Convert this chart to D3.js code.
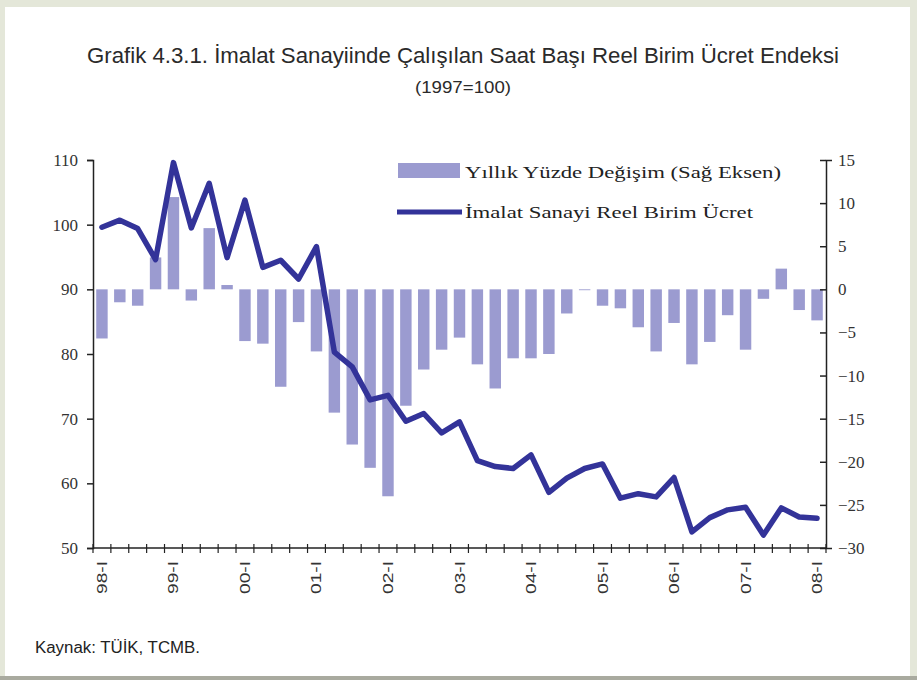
<!DOCTYPE html>
<html><head><meta charset="utf-8">
<script src="https://cdn.jsdelivr.net/npm/d3@7"></script>
<style>html,body{margin:0;padding:0;background:#fff;}svg{display:block;}</style>
</head><body>
<svg id="chart" width="917" height="680"></svg>
<script>
const title = "Grafik 4.3.1. İmalat Sanayiinde Çalışılan Saat Başı Reel Birim Ücret Endeksi";
const subtitle = "(1997=100)";
const source = "Kaynak: TÜİK, TCMB.";
const barLabel = "Yıllık Yüzde Değişim (Sağ Eksen)";
const lineLabel = "İmalat Sanayi Reel Birim Ücret";

const years = ["98","99","00","01","02","03","04","05","06","07","08"];
const quarterNames = ["I","II","III","IV"];
const categories = [];
years.forEach((y, i) => quarterNames.forEach((q, j) => { if (i < years.length - 1 || j === 0) categories.push(y + "-" + q); }));
const tickLabels = years.map(y => y + "-I");

const indexValues = [99.6,100.7,99.4,94.6,109.6,99.5,106.4,94.9,103.8,93.4,94.5,91.6,96.6,80.3,78.0,72.9,73.6,69.6,70.8,67.8,69.5,63.5,62.6,62.3,64.4,58.6,60.8,62.3,63.0,57.7,58.4,57.9,60.9,52.5,54.7,55.9,56.3,52.0,56.2,54.8,54.6];
const changeValues = [-5.7,-1.5,-1.9,3.7,10.7,-1.3,7.1,0.5,-6.0,-6.3,-11.3,-3.8,-7.2,-14.3,-18.0,-20.7,-24.0,-13.5,-9.3,-7.0,-5.6,-8.7,-11.5,-8.0,-8.0,-7.5,-2.8,-0.1,-1.9,-2.2,-4.4,-7.2,-3.9,-8.7,-6.1,-3.0,-7.0,-1.1,2.4,-2.4,-3.6];
const leftTicks = [50,60,70,80,90,100,110];
const rightTicks = [-30,-25,-20,-15,-10,-5,0,5,10,15];

const svg = d3.select("#chart");
// frame
svg.append("rect").attr("x",0).attr("y",0).attr("width",917).attr("height",680).attr("fill","#e4e7d9");
svg.append("rect").attr("x",5).attr("y",7).attr("width",905).attr("height",669).attr("fill","#fff");
svg.append("rect").attr("x",0).attr("y",676).attr("width",917).attr("height",4).attr("fill","#a9aa9f");

const L = 93, R = 826, T = 160, B = 548;
const x = d3.scaleBand().domain(categories).range([L, R]).paddingInner(0.36).paddingOuter(0.18);
const xPoint = c => x(c) + x.bandwidth() / 2;
const yL = d3.scaleLinear().domain([50, 110]).range([B, T]);
const yR = d3.scaleLinear().domain([-30, 15]).range([B, T]);

const barColor = "#9b9bd0", lineColor = "#333399";

// bars
svg.append("g").selectAll("rect").data(changeValues).join("rect")
  .attr("x", (d, i) => x(categories[i]))
  .attr("width", x.bandwidth())
  .attr("y", d => yR(Math.max(0, d)))
  .attr("height", d => Math.max(0.8, Math.abs(yR(d) - yR(0))))
  .attr("fill", barColor);

// line
const line = d3.line().x((d, i) => xPoint(categories[i])).y(d => yL(d));
svg.append("path").datum(indexValues).attr("d", line)
  .attr("fill", "none").attr("stroke", lineColor).attr("stroke-width", 5.5)
  .attr("stroke-linejoin", "round").attr("stroke-linecap", "round");

// axes
const axisFont = "'Liberation Serif', 'Times New Roman', serif";
const gl = svg.append("g").attr("transform", `translate(${L},0)`)
  .call(d3.axisLeft(yL).tickValues(leftTicks).tickSize(6).tickPadding(9));
const gr = svg.append("g").attr("transform", `translate(${R},0)`)
  .call(d3.axisRight(yR).tickValues(rightTicks).tickSize(6).tickPadding(8));
[gl, gr].forEach(g => {
  g.select(".domain").attr("stroke", "#222").attr("stroke-width", 1.5);
  g.selectAll(".tick line").attr("stroke", "#222").attr("stroke-width", 1.5);
  g.selectAll(".tick text").attr("font-family", axisFont).attr("font-size", 17).attr("fill", "#333");
});
gr.selectAll(".tick line").attr("x1", -6).attr("x2", 0);
gr.selectAll(".tick text").attr("x", 12);

// x axis with ticks at band boundaries
const gx = svg.append("g").attr("transform", `translate(0,${B})`);
gx.append("line").attr("x1", L).attr("x2", R).attr("stroke", "#222").attr("stroke-width", 1.5);
const boundaries = d3.range(categories.length + 1).map(i => L + (R - L) * i / categories.length);
gx.selectAll("line.t").data(boundaries).join("line").attr("class", "t")
  .attr("x1", d => d).attr("x2", d => d).attr("y1", -4).attr("y2", 5)
  .attr("stroke", "#222").attr("stroke-width", 1.2);
gx.selectAll("text").data(tickLabels).join("text")
  .attr("transform", d => `translate(${xPoint(d) + 5},${13}) rotate(-90)`)
  .attr("text-anchor", "end")
  .attr("font-family", "'Liberation Sans', Arial, sans-serif")
  .attr("font-size", 14).attr("fill", "#333")
  .attr("textLength", 33).attr("lengthAdjust", "spacingAndGlyphs")
  .text(d => d);

// titles
const narrow = "'Liberation Sans Narrow', 'Arial Narrow', 'Liberation Sans', sans-serif";
svg.append("text").attr("x", 463).attr("y", 63).attr("text-anchor", "middle")
  .attr("font-family", narrow)
  .attr("font-size", 22).attr("fill", "#2a2a2a")
  .attr("textLength", 752).attr("lengthAdjust", "spacingAndGlyphs").text(title);
svg.append("text").attr("x", 463).attr("y", 93).attr("text-anchor", "middle")
  .attr("font-family", narrow)
  .attr("font-size", 17).attr("fill", "#2a2a2a")
  .attr("textLength", 96).attr("lengthAdjust", "spacingAndGlyphs").text(subtitle);

// legend
const lg = svg.append("g");
lg.append("rect").attr("x", 398).attr("y", 163).attr("width", 62).attr("height", 15).attr("fill", barColor);
lg.append("text").attr("x", 465).attr("y", 178).attr("font-family", axisFont).attr("font-size", 17).attr("fill", "#222")
  .attr("textLength", 316).attr("lengthAdjust", "spacingAndGlyphs").text(barLabel);
lg.append("line").attr("x1", 397).attr("x2", 462).attr("y1", 212).attr("y2", 212)
  .attr("stroke", lineColor).attr("stroke-width", 5);
lg.append("text").attr("x", 465).attr("y", 218).attr("font-family", axisFont).attr("font-size", 17).attr("fill", "#222")
  .attr("textLength", 288).attr("lengthAdjust", "spacingAndGlyphs").text(lineLabel);

// source
svg.append("text").attr("x", 35).attr("y", 653)
  .attr("font-family", narrow)
  .attr("font-size", 16).attr("fill", "#222")
  .attr("textLength", 165).attr("lengthAdjust", "spacingAndGlyphs").text(source);
</script>
</body></html>
